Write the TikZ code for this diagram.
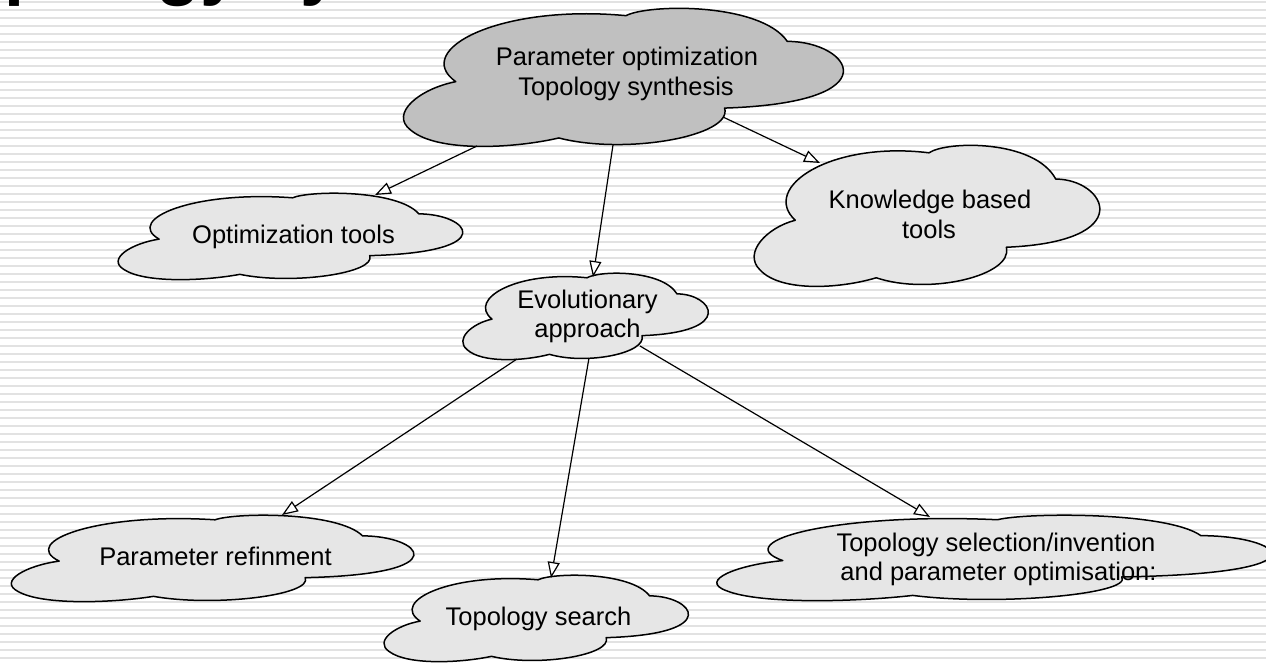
\documentclass[tikz,border=0pt]{standalone}
\usepackage{fontspec}
\setmainfont{Liberation Sans}
\usetikzlibrary{arrows.meta}
\definecolor{cloudlight}{RGB}{230,230,230}
\definecolor{clouddark}{RGB}{192,192,192}
\definecolor{stripe}{RGB}{226,226,226}
\tikzset{
  % unit cloud outline, u to the right, v downwards, inside [0,1]x[0,1]
  cloudpic/.pic={
    \path[pic actions]
      (0.12,0.53) .. controls (0.02,0.30) and (0.22,-0.03) .. (0.50,0.055)
      .. controls (0.55,-0.03) and (0.80,-0.04) .. (0.86,0.24)
      .. controls (1.00,0.24) and (1.10,0.68) .. (0.72,0.72)
      .. controls (0.74,0.92) and (0.50,1.06) .. (0.35,0.935)
      .. controls (0.25,1.01) and (0.08,1.04) .. (0.02,0.88)
      .. controls (-0.03,0.76) and (0.04,0.58) .. (0.12,0.53) -- cycle;
  },
  cloudbox/.style={draw=black, line width=1.5pt, line join=round},
  lbl/.style={font=\fontsize{25.5}{29.5}\selectfont, inner sep=0pt, anchor=base},
  link/.style={line width=1.2pt,
    -{Triangle[length=16pt,width=12pt,fill=white,line width=1.2pt]}},
}
\begin{document}
\begin{tikzpicture}[x=1pt,y=-1pt]
\useasboundingbox (0,0) rectangle (1266,662);
\clip (0,0) rectangle (1266,662);
\fill[white] (0,0) rectangle (1266,662);
% striped slide background
\foreach \k in {0,...,82}{
  \draw[stripe, line width=2pt] (0,{1.7+8*\k}) -- (1266,{1.7+8*\k});
}
% slide title, running off the top edge
\node[font=\bfseries\fontsize{72}{80}\selectfont, anchor=base west, inner sep=0pt]
  (title) at (-78,-9) {Topology synthesis};

% clouds
\pic[cloudbox, fill=clouddark, xscale=448, yscale=139] at (402,8) {cloudpic};
\pic[cloudbox, fill=cloudlight, xscale=351, yscale=87] at (117,193) {cloudpic};
\pic[cloudbox, fill=cloudlight, xscale=352, yscale=142] at (753,145) {cloudpic};
\pic[cloudbox, fill=cloudlight, xscale=250, yscale=87] at (462,273) {cloudpic};
\pic[cloudbox, fill=cloudlight, xscale=410, yscale=87] at (10,515) {cloudpic};
\pic[cloudbox, fill=cloudlight, xscale=310, yscale=87] at (383,575) {cloudpic};
\pic[cloudbox, fill=cloudlight, xscale=565, yscale=86] at (715,515) {cloudpic};

% cloud texts
\node[lbl] (po1) at (627,65) {Parameter optimization};
\node[lbl] (po2) at (626,95) {Topology synthesis};
\node[lbl] (ot) at (293.5,243) {Optimization tools};
\node[lbl] (kb1) at (930,208) {Knowledge based};
\node[lbl] (kb2) at (929,238) {tools};
\node[lbl] (ev1) at (587.5,308) {Evolutionary};
\node[lbl] (ev2) at (587.5,337) {approach};
\node[lbl] (pr) at (215.5,565) {Parameter refinment};
\node[lbl] (ts) at (538.5,625) {Topology search};
\node[lbl] (sel1) at (996,551) {Topology selection/invention};
\node[lbl] (sel2) at (998.5,580) {and parameter optimisation:};

% connector end points on the cloud outlines
\coordinate (po-a) at (477,146);
\coordinate (po-b) at (613,145);
\coordinate (po-c) at (723,117);
\coordinate (ot-in) at (375,195);
\coordinate (ev-in) at (593,277);
\coordinate (kb-in) at (820,163);
\coordinate (ev-a) at (517,359);
\coordinate (ev-b) at (589,358);
\coordinate (ev-c) at (640,346);
\coordinate (pr-in) at (282,515);
\coordinate (ts-in) at (551,578);
\coordinate (sel-in) at (930,517);

% connectors
\draw[link] (po-a) -- (ot-in);
\draw[link] (po-b) -- (ev-in);
\draw[link] (po-c) -- (kb-in);
\draw[link] (ev-a) -- (pr-in);
\draw[link] (ev-b) -- (ts-in);
\draw[link] (ev-c) -- (sel-in);
\end{tikzpicture}
\end{document}
